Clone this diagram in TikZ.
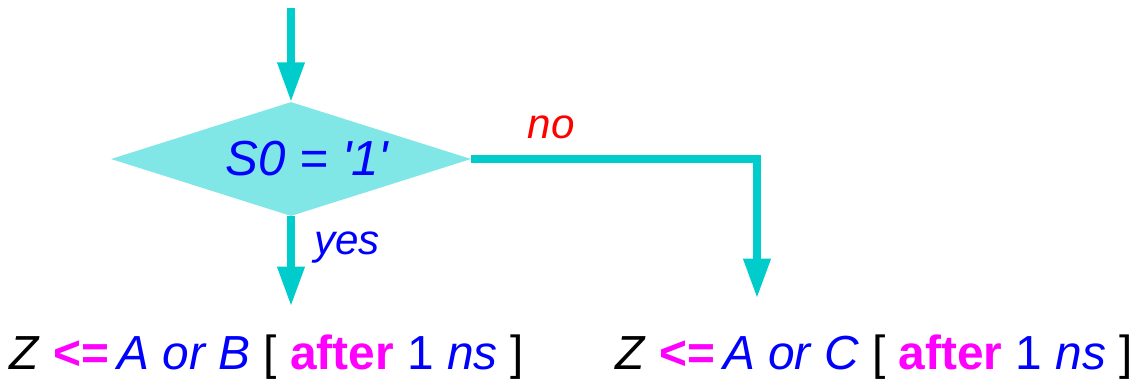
\documentclass[tikz,border=0pt]{standalone}
\usepackage{xcolor}
\usepackage{fontspec}
\setmainfont{Liberation Sans}
\usetikzlibrary{shapes.geometric, arrows.meta, positioning}

\definecolor{flow}{HTML}{00CCCC}
\definecolor{decfill}{HTML}{80E6E6}
\definecolor{sig}{HTML}{0000FF}
\definecolor{hot}{HTML}{FF00FF}
\definecolor{nored}{HTML}{FF0000}

\begin{document}
\begin{tikzpicture}[
  x=0.025cm, y=-0.025cm,
  decision/.style={diamond, fill=decfill, draw=none, inner sep=0pt,
                   minimum width=9cm, minimum height=2.85cm},
  cond/.style={font=\fontsize{35}{40}\selectfont\itshape, text=sig, inner sep=0pt},
  branch/.style={font=\fontsize{30}{34}\selectfont\itshape, inner sep=0pt},
  stmt/.style={font=\fontsize{34}{40}\selectfont, inner sep=0pt, anchor=base},
  arrow/.style={-{Triangle[length=28pt, width=18.5pt]}, line width=5pt, draw=flow}
]
\useasboundingbox (0,0) rectangle (1134,378);

\coordinate (entry) at (291,8);
\node[decision] (dec) at (291,159) {};
\node[cond] (test) at ([xshift=0.4cm]dec.center) {S0 = \textquotesingle 1\textquotesingle};
\coordinate (yesend) at (291,306);
\coordinate (noend) at (757,298);

\node[stmt] (lhs) at (267,369) {%
  \textit{Z} \textcolor{hot}{\textbf{<=}}\,\textcolor{sig}{\textit{A or B}} [ \textcolor{hot}{\textbf{after}} \textcolor{sig}{1 \textit{ns}} ]};
\node[stmt] (rhs) at (874,369) {%
  \textit{Z} \textcolor{hot}{\textbf{<=}}\,\textcolor{sig}{\textit{A or C}} [ \textcolor{hot}{\textbf{after}} \textcolor{sig}{1 \textit{ns}} ]};

\draw[arrow] (entry) -- (dec.north);
\draw[arrow] (dec.south) -- node[branch, text=sig, right=14pt, pos=0.35] (yes) {yes} (yesend);
\draw[arrow, line join=miter] (dec.east) -| node[branch, text=nored, above=12pt, pos=0.14] (no) {no} (noend);
\end{tikzpicture}
\end{document}
